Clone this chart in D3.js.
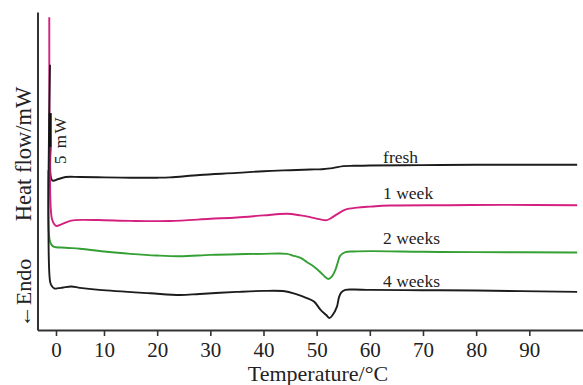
<!DOCTYPE html>
<html>
<head>
<meta charset="utf-8">
<script src="https://cdn.jsdelivr.net/npm/d3@7"></script>
<style>
  html, body { margin: 0; padding: 0; background: #fff; }
  svg { display: block; }
  text { font-family: "Liberation Serif", "Times New Roman", serif; fill: #222; }
</style>
</head>
<body>
<svg id="chart" width="583" height="385"></svg>
<script>
// Temperature ticks (°C)
const xTicks = [0, 10, 20, 30, 40, 50, 60, 70, 80, 90];

// Series: [temperature °C, heat flow mW (offset, arbitrary zero)]
const fresh = [
  [-1.1, 26.9], [-0.8, 22.0], [0.5, 22.2], [2, 22.5], [5, 22.5], [10, 22.45],
  [15, 22.4], [20, 22.4], [22.4, 22.45], [28, 22.8], [35, 23.1], [40, 23.35],
  [45, 23.5], [48.8, 23.6], [51, 23.65], [53, 23.8], [55, 24.1], [57, 24.15],
  [60, 24.2], [70, 24.25], [80, 24.3], [90, 24.3], [99, 24.3]
];
const week1 = [
  [-1.4, 46.0], [-1.35, 30], [-1.1, 18], [-0.8, 16.2], [-0.3, 15.5], [0.15, 15.3],
  [1.0, 15.5], [2.5, 15.95], [4, 16.15], [5.7, 16.2], [10, 16.15], [15, 16.05],
  [22.4, 16.03], [30, 16.35], [35, 16.55], [40, 16.85], [44.4, 17.1], [47, 16.85],
  [48.8, 16.6], [50.5, 16.3], [51.9, 16.15], [52.6, 16.4], [53.8, 17.0], [55.4, 17.7],
  [57.6, 18.0], [60.1, 18.15], [63.8, 18.3], [75, 18.35], [85, 18.4], [99, 18.35]
];
const weeks2 = [
  [-1.6, 23.5], [-1.5, 14.5], [-1.2, 12.9], [-0.6, 12.3], [2, 12.1], [5, 11.95],
  [10.5, 11.5], [15, 11.2], [20, 10.95], [24.3, 10.85], [30, 11.05], [35, 11.15],
  [40, 11.2], [44.4, 11.2], [45.5, 10.95], [47, 10.6], [48.15, 10.0], [49.5, 9.3],
  [50.7, 8.5], [51.6, 7.8], [52.2, 7.5], [52.8, 7.8], [53.5, 8.8], [54.0, 10.0],
  [54.4, 10.9], [55.4, 11.45], [57, 11.55], [60.1, 11.6], [70, 11.5], [80, 11.45], [99, 11.4]
];
const weeks4 = [
  [-1.25, 39.0], [-1.2, 7.0], [-0.8, 6.4], [-0.3, 6.1], [0.5, 6.15], [1.5, 6.25],
  [3.2, 6.4], [5, 6.2], [9, 5.9], [18.7, 5.4], [24.3, 5.15], [28, 5.3], [35, 5.6],
  [40, 5.75], [44, 5.7], [46, 5.3], [48.15, 4.7], [49.5, 4.2], [50.7, 3.0],
  [51.8, 2.2], [52.4, 1.76], [53, 2.2], [53.8, 3.4], [54.2, 4.8], [54.6, 5.5],
  [55.4, 5.9], [57, 5.95], [60.1, 5.9], [70, 5.85], [80, 5.8], [99, 5.6]
];

const seriesNames = ["fresh", "1 week", "2 weeks", "4 weeks"];
const seriesData = [fresh, week1, weeks2, weeks4];
const seriesColors = ["#1c1c1c", "#d4207e", "#34a034", "#1c1c1c"];
// label anchor points [temperature, heat flow]
const labelPos = [[62.5, 24.5], [62.5, 19.3], [62.5, 12.7], [62.5, 6.3]];

// scale bar (5 mW)
const scaleBar = { t: -1.2, from: 26.9, to: 31.9, label: "5 mW" };

const svg = d3.select("#chart");

const x = d3.scaleLinear()
  .domain([-3.85, 0, 10, 100.1])
  .range([37.5, 56, 104, 583]);
const y = d3.scaleLinear()
  .domain([0, 318 / 6.8])
  .range([330, 12]);

// axes
const gx = svg.append("g")
  .attr("transform", `translate(0,${y(0)})`)
  .call(d3.axisBottom(x).tickValues(xTicks).tickSize(6).tickSizeOuter(0).tickPadding(6));
gx.select(".domain").attr("stroke", "#333").attr("stroke-width", 2);
gx.selectAll(".tick line").attr("stroke", "#333").attr("stroke-width", 1.6);
gx.selectAll(".tick text")
  .style("font-family", '"Liberation Serif", "Times New Roman", serif')
  .style("font-size", "21px").attr("fill", "#222");

const gy = svg.append("g")
  .attr("transform", `translate(${x(-3.85)},0)`)
  .call(d3.axisLeft(y).tickValues([]).tickSizeOuter(0));
gy.select(".domain").attr("stroke", "#333").attr("stroke-width", 2);

// lines
seriesData.forEach((s, i) => {
  svg.append("path")
    .datum(s)
    .attr("fill", "none")
    .attr("stroke", seriesColors[i])
    .attr("stroke-width", 1.9)
    .attr("stroke-linejoin", "round")
    .attr("d", d3.line().x(d => x(d[0])).y(d => y(d[1])).curve(d3.curveCatmullRom.alpha(0.5)));
});

// scale bar
svg.append("line")
  .attr("x1", x(scaleBar.t)).attr("x2", x(scaleBar.t))
  .attr("y1", y(scaleBar.from)).attr("y2", y(scaleBar.to))
  .attr("stroke", "#111").attr("stroke-width", 3);
svg.append("text")
  .attr("transform", `translate(${x(scaleBar.t) + 16},${(y(scaleBar.from) + y(scaleBar.to)) / 2 + 10}) rotate(-90)`)
  .attr("text-anchor", "middle")
  .style("font-size", "17px")
  .style("letter-spacing", "1.5px")
  .text(scaleBar.label);

// series labels
seriesNames.forEach((n, i) => {
  svg.append("text")
    .attr("x", x(labelPos[i][0]))
    .attr("y", y(labelPos[i][1]))
    .style("font-size", "17.5px")
    .text(n);
});

// axis titles
svg.append("text")
  .attr("x", 318).attr("y", 381)
  .attr("text-anchor", "middle")
  .style("font-size", "22px")
  .text("Temperature/°C");

svg.append("text")
  .attr("transform", "translate(31,154) rotate(-90)")
  .attr("text-anchor", "middle")
  .style("font-size", "22.5px")
  .text("Heat flow/mW");
svg.append("text")
  .attr("transform", "translate(31,293) rotate(-90)")
  .attr("text-anchor", "middle")
  .style("font-size", "22px")
  .text("←Endo");
</script>
</body>
</html>
